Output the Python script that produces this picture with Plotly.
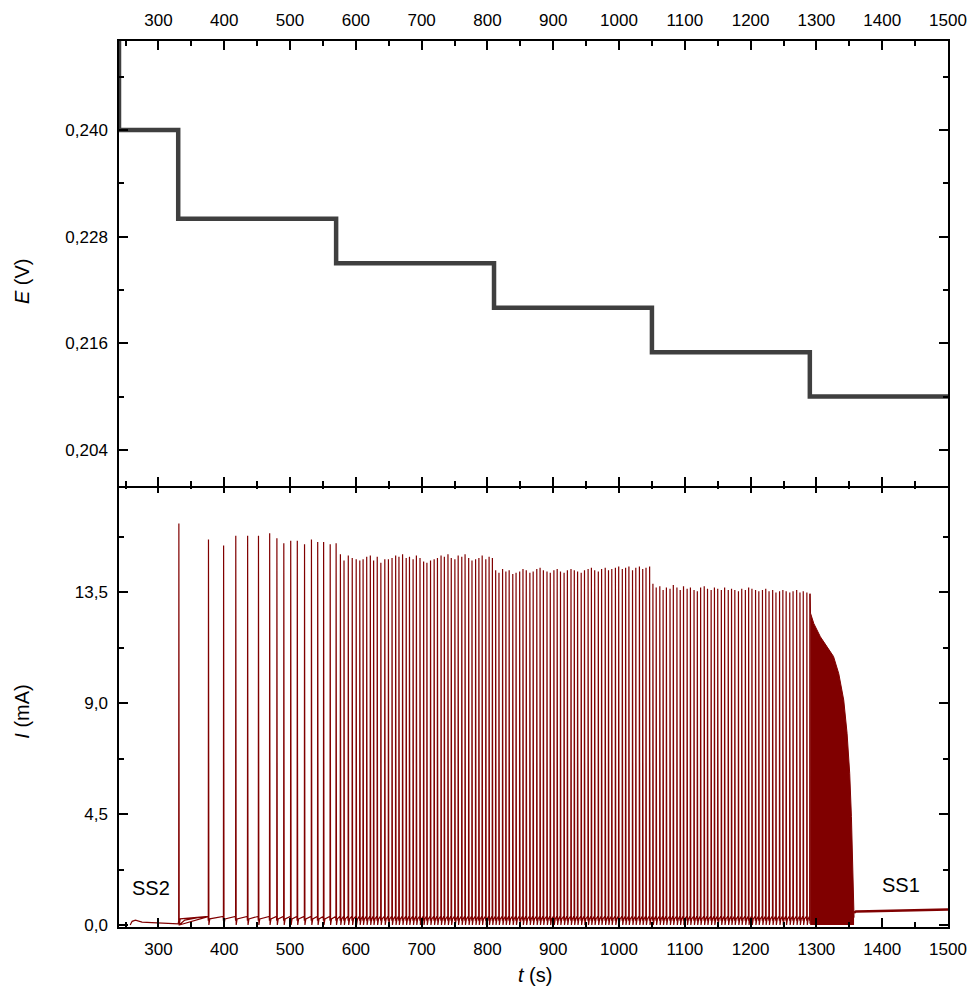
import plotly.graph_objects as go

# ---------------- data ----------------
# Potential steps (top panel)
E_t = [239.0, 240.0, 330.0, 570.0, 810.0, 1050.0, 1290.0, 1500.0]
E_V = [0.262, 0.240, 0.230, 0.225, 0.220, 0.215, 0.210, 0.210]

# Steady state SS2 (before oscillations)
ss2_t = [257, 260, 265, 275, 290, 305, 318, 330]
ss2_I = [0.00, 0.15, 0.20, 0.12, 0.10, 0.08, 0.07, 0.05]

# Current spike times (s) and peak values (mA)
spike_t = [
    331, 376, 399, 417.5, 435.5, 452, 469, 480, 490.5, 501, 511, 522, 532.5, 542, 551, 561, 570,
    576.5, 582, 588.5, 594.5, 600.5, 606, 611, 616.5, 622, 627, 632.5, 638, 644, 649.5, 655,
    660.5, 665.5, 671, 676.5, 681.5, 687, 692, 697.5, 703, 708, 713.5, 719, 724, 729.5, 734.5,
    740, 745, 750.5, 755.5, 761, 766, 771.5, 776.5, 782, 787, 792, 797.5, 802.5, 807.5,
    812.5, 817.5, 823, 828, 833, 838.5, 843.5, 849, 854, 859, 864.5, 869.5, 875, 880, 885,
    890.5, 895.5, 901, 906, 911, 916.5, 921.5, 927, 932, 937, 942.5, 947.5, 953, 958, 963,
    968.5, 973.5, 979, 984, 989, 994.5, 999.5, 1005, 1010, 1015, 1020.5, 1025.5, 1031, 1036,
    1041, 1046.5,
    1051.5, 1056.5, 1062, 1067, 1072, 1077.5, 1082.5, 1088, 1093, 1098, 1103.5, 1108.5, 1114,
    1119, 1124, 1129.5, 1134.5, 1140, 1145, 1150, 1155.5, 1160.5, 1166, 1171, 1176, 1181.5,
    1186.5, 1192, 1197, 1202, 1207.5, 1212.5, 1218, 1223, 1228, 1233.5, 1238.5, 1244, 1249,
    1254, 1259.5, 1264.5, 1270, 1275, 1280, 1285.5, 1290,
]
spike_I = [
    16.3, 15.65, 15.4, 15.8, 15.8, 15.8, 15.9, 15.7, 15.5, 15.6, 15.6, 15.45, 15.65, 15.55, 15.55, 15.45, 15.5,
    15.05, 14.8, 15.0, 14.9, 14.85, 14.8, 14.85, 14.95, 15.0, 14.8, 14.95, 14.7, 14.85, 14.85, 14.9,
    15.0, 14.95, 15.05, 14.9, 14.95, 14.85, 15.0, 14.9, 14.75, 14.7, 14.8, 14.85, 14.9, 15.0, 14.95,
    15.05, 14.9, 14.85, 15.0, 14.95, 15.05, 14.9, 14.8, 14.85, 14.9, 15.0, 14.85, 14.95, 14.9,
    14.4, 14.3, 14.45, 14.35, 14.4, 14.25, 14.3, 14.35, 14.45, 14.4, 14.3, 14.35, 14.45, 14.5, 14.4,
    14.35, 14.3, 14.4, 14.45, 14.35, 14.3, 14.4, 14.45, 14.4, 14.35, 14.3, 14.4, 14.45, 14.5, 14.4,
    14.35, 14.45, 14.5, 14.4, 14.45, 14.5, 14.55, 14.45, 14.5, 14.55, 14.4, 14.5, 14.55, 14.45,
    14.5, 14.55,
    13.85, 13.7, 13.75, 13.6, 13.7, 13.65, 13.8, 13.7, 13.6, 13.75, 13.65, 13.7, 13.6,
    13.55, 13.7, 13.75, 13.65, 13.6, 13.7, 13.65, 13.6, 13.7, 13.6, 13.65, 13.6, 13.55,
    13.65, 13.6, 13.7, 13.65, 13.6, 13.55, 13.6, 13.65, 13.55, 13.6, 13.5, 13.55, 13.6,
    13.55, 13.5, 13.55, 13.6, 13.5, 13.55, 13.5, 13.45,
]
# baseline just before each spike (recovery level between spikes), mA
pre_spike_level = 0.35

# Envelope of the fast oscillation block (1290-1357 s)
block_t = [1290.5, 1291, 1296, 1306, 1316, 1326, 1334, 1341.5, 1346.6, 1350.6, 1353.2, 1355.2, 1356.7, 1357.2]
block_I = [13.45, 12.66, 12.24, 11.7, 11.3, 10.9, 10.2, 9.13, 7.78, 6.16, 4.4, 2.37, 0.48, 0.3]

# Steady state SS1 (after oscillations)
ss1_t = [1357.2, 1360, 1380, 1400, 1430, 1460, 1500]
ss1_I = [0.50, 0.55, 0.56, 0.57, 0.59, 0.60, 0.63]

# tick labels
x_ticks = [300, 400, 500, 600, 700, 800, 900, 1000, 1100, 1200, 1300, 1400, 1500]
E_tickvals = [0.204, 0.216, 0.228, 0.240]
E_ticktext = ["0,204", "0,216", "0,228", "0,240"]
I_tickvals = [0.0, 4.5, 9.0, 13.5]
I_ticktext = ["0,0", "4,5", "9,0", "13,5"]

# ---------------- build current trace ----------------
cur_x = list(ss2_t)
cur_y = list(ss2_I)
for k, (t, p) in enumerate(zip(spike_t, spike_I)):
    if k > 0:
        prev = spike_t[k - 1]
        cur_x += [prev + 0.6, prev + 2.0, t - 0.7]
        cur_y += [0.0, 0.25, pre_spike_level]
    cur_x += [t - 0.3, t]
    cur_y += [pre_spike_level * 0.5, p]
    if k == 0:
        # post-first-spike ramp
        cur_x += [t + 0.5, 340, 360, 374]
        cur_y += [0.0, 0.2, 0.3, 0.33]
cur_x += [spike_t[-1] + 0.3]
cur_y += [0.05]

RED = "#800000"
FONT = "Liberation Sans, Arial, sans-serif"

fig = go.Figure()
fig.add_trace(go.Scatter(x=E_t, y=E_V, mode="lines", line=dict(color="#3f3f3f", width=4.5, shape="hv"),
                         xaxis="x2", yaxis="y2", showlegend=False, hoverinfo="skip"))
fig.add_trace(go.Scatter(x=block_t, y=block_I, mode="lines", fill="tozeroy", fillcolor=RED,
                         line=dict(color=RED, width=1), xaxis="x", yaxis="y", showlegend=False))
fig.add_trace(go.Scatter(x=cur_x, y=cur_y, mode="lines", line=dict(color=RED, width=1.2),
                         xaxis="x", yaxis="y", showlegend=False))
fig.add_trace(go.Scatter(x=ss1_t, y=ss1_I, mode="lines", line=dict(color=RED, width=2.5),
                         xaxis="x", yaxis="y", showlegend=False))

axis_common = dict(showline=True, linecolor="black", linewidth=1.5, mirror="allticks",
                   ticks="inside", ticklen=9, tickwidth=1.5, tickcolor="black",
                   showgrid=False, zeroline=False, automargin=False,
                   tickfont=dict(family=FONT, size=17, color="black"))

minor_x = dict(ticks="inside", ticklen=5, tickwidth=1.5, dtick=50, tick0=0, tickcolor="black")
split = 0.5 - 1.5 / 886

fig.update_layout(
    width=973, height=995,
    margin=dict(l=119, r=25, t=41, b=68),
    paper_bgcolor="white", plot_bgcolor="white",
    font=dict(family=FONT, size=17, color="black"),
    xaxis=dict(domain=[0, 1], anchor="y", side="bottom", range=[240, 1500], tickvals=x_ticks,
               minor=minor_x, ticklabelstandoff=6, **axis_common),
    xaxis2=dict(domain=[0, 1], anchor="y2", side="top", range=[240, 1500], tickvals=x_ticks,
                matches="x", minor=minor_x, ticklabelstandoff=6, **axis_common),
    yaxis=dict(domain=[0, 0.5], anchor="x", range=[-0.08, 17.9], tickvals=I_tickvals, ticktext=I_ticktext,
               minor=dict(ticks="inside", ticklen=5, tickwidth=1.5, dtick=2.25, tick0=0, tickcolor="black"),
               ticklabelstandoff=6, **axis_common),
    yaxis2=dict(domain=[split, 1], anchor="x2", range=[0.200, 0.250], tickvals=E_tickvals, ticktext=E_ticktext,
                minor=dict(ticks="inside", ticklen=5, tickwidth=1.5, dtick=0.006, tick0=0.204, tickcolor="black"),
                ticklabelstandoff=6, **axis_common),
)

ann_font = dict(family=FONT, size=20, color="black")
fig.add_annotation(text="<i>E</i> (V)", xref="paper", yref="paper", x=0, y=0.729, xshift=-97,
                   textangle=-90, showarrow=False, font=ann_font, xanchor="center", yanchor="middle")
fig.add_annotation(text="<i>I</i> (mA)", xref="paper", yref="paper", x=0, y=0.243, xshift=-97,
                   textangle=-90, showarrow=False, font=ann_font, xanchor="center", yanchor="middle")
fig.add_annotation(text="<i>t</i> (s)", xref="paper", yref="paper", x=0.502, y=0, yshift=-48,
                   showarrow=False, font=ann_font, xanchor="center", yanchor="middle")
fig.add_annotation(text="SS2", xref="x", yref="y", x=289, y=1.5, showarrow=False, font=ann_font,
                   xanchor="center", yanchor="middle")
fig.add_annotation(text="SS1", xref="x", yref="y", x=1429, y=1.62, showarrow=False, font=ann_font,
                   xanchor="center", yanchor="middle")

fig.write_html("out.html")
